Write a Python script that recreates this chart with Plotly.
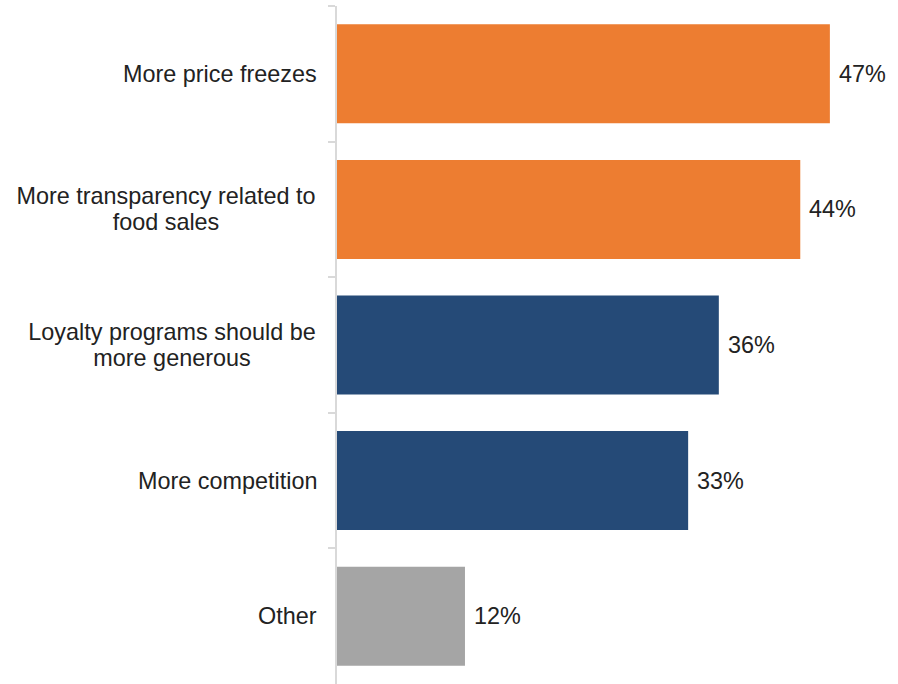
import plotly.graph_objects as go

categories = ["More price freezes", "More transparency related to food sales",
              "Loyalty programs should be more generous", "More competition", "Other"]
label_lines = [["More price freezes"],
               ["More transparency related to", "food sales"],
               ["Loyalty programs should be", "more generous"],
               ["More competition"],
               ["Other"]]
values = [46.6, 43.8, 36.1, 33.2, 12.1]
colors = ["#ED7D31", "#ED7D31", "#254A77", "#254A77", "#A5A5A5"]

FONT = "Liberation Sans, Arial, sans-serif"
FS = 23.4
TXT = "#222222"
box_w = [None, 302, 290, None, None]  # label box widths for centered multi-line labels

fig = go.Figure()
fig.add_trace(go.Bar(
    y=categories, x=values, orientation="h",
    marker=dict(color=colors, line=dict(width=0)),
    hoverinfo="skip",
))

LH = 26
for c, lines, w in zip(categories, label_lines, box_w):
    n = len(lines)
    for i, line in enumerate(lines):
        off = ((n - 1) / 2 - i) * LH
        kw = dict(width=w, align="center") if w else {}
        fig.add_annotation(
            x=0, xref="paper", y=c, yref="y", xanchor="right",
            yanchor="middle", text=line, showarrow=False, yshift=off,
            xshift=-18, font=dict(family=FONT, size=FS, color=TXT), **kw,
        )

for c, v in zip(categories, values):
    fig.add_annotation(
        x=v, xref="x", y=c, yref="y", xanchor="left", yanchor="middle",
        text=f"{v:.0f}%", showarrow=False, xshift=7,
        font=dict(family=FONT, size=FS, color=TXT),
    )

fig.update_layout(
    width=898, height=684,
    margin=dict(l=337, r=11, t=6, b=0),
    paper_bgcolor="white", plot_bgcolor="white",
    bargap=0.27, showlegend=False,
    xaxis=dict(range=[0, 52], visible=False, fixedrange=True),
    yaxis=dict(
        categoryorder="array", categoryarray=categories, autorange="reversed",
        showticklabels=False, showgrid=False, zeroline=False,
        showline=True, linecolor="#D9D9D9", linewidth=2,
        ticks="outside", tickson="boundaries", ticklen=7, tickcolor="#D9D9D9", tickwidth=2,
    ),
)

fig.write_html("out.html")
